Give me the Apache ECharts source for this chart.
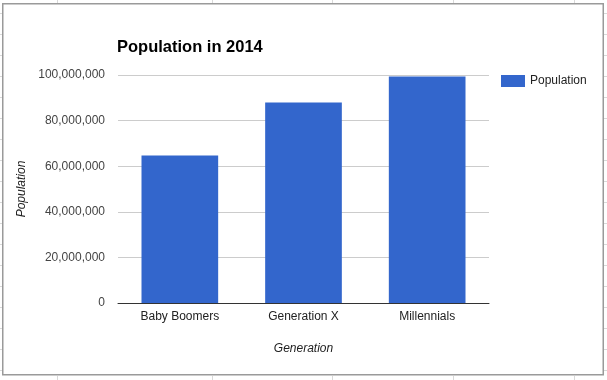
<!DOCTYPE html>
<html><head><meta charset="utf-8">
<script src="https://cdn.jsdelivr.net/npm/echarts@6/dist/echarts.min.js"></script>
<style>html,body{margin:0;padding:0;background:#fff;}#c{width:607px;height:380px;}</style>
</head><body><div id="c"></div>
<script>
const categories = ['Baby Boomers', 'Generation X', 'Millennials'];
const population = [64700000, 87900000, 99300000];
const yTicks = { min: 0, max: 100000000, interval: 20000000 };
const seriesName = 'Population';
const titleText = 'Population in 2014';
const xTitle = 'Generation';
const yTitle = 'Population';

const sheetCols = [57, 212, 332, 453, 574];
const sheetRows = [13, 34, 55, 76, 97, 118, 139, 160, 181, 202, 223, 244, 265, 286, 307, 328, 349, 370];
const FONT = 'Liberation Sans, Arial, Helvetica, sans-serif';

const graphics = [];
sheetCols.forEach(x => {
  graphics.push({type:'line', shape:{x1:x+0.5,y1:0,x2:x+0.5,y2:3}, style:{stroke:'#d9d9d9',lineWidth:1}, silent:true});
  graphics.push({type:'line', shape:{x1:x+0.5,y1:376,x2:x+0.5,y2:380}, style:{stroke:'#d9d9d9',lineWidth:1}, silent:true});
});
sheetRows.forEach(y => {
  graphics.push({type:'line', shape:{x1:0,y1:y+0.5,x2:2,y2:y+0.5}, style:{stroke:'#d9d9d9',lineWidth:1}, silent:true});
  graphics.push({type:'line', shape:{x1:604,y1:y+0.5,x2:607,y2:y+0.5}, style:{stroke:'#d9d9d9',lineWidth:1}, silent:true});
});
graphics.push({type:'rect', shape:{x:2.75,y:3.75,width:600.5,height:371}, style:{fill:null,stroke:'#9a9a9a',lineWidth:1.5}, silent:true, z:10});

const chart = echarts.init(document.getElementById('c'), null, {renderer:'canvas'});
chart.setOption({
  animation: false,
  backgroundColor: '#fff',
  textStyle: { fontFamily: FONT },
  title: {
    text: titleText, left: 117, top: 39, padding: 0,
    textStyle: { fontFamily: FONT, fontSize: 16.5, fontWeight: 'bold', color: '#000' }
  },
  legend: {
    data: [seriesName], left: 501, top: 75, padding: 0,
    icon: 'rect', itemWidth: 24, itemHeight: 12, itemGap: 5,
    textStyle: { fontFamily: FONT, fontSize: 12, color: '#222', padding: [0,0,0,0] }
  },
  grid: { left: 118, right: 118, top: 75, height: 228, containLabel: false },
  xAxis: {
    type: 'category', data: categories,
    name: xTitle, nameLocation: 'middle', nameGap: 40,
    nameTextStyle: { fontFamily: FONT, fontSize: 12, fontStyle: 'italic', color: '#222' },
    axisLine: { lineStyle: { color: '#333', width: 1 } },
    axisTick: { show: false },
    axisLabel: { fontFamily: FONT, fontSize: 12, color: '#222', margin: 8 },
    splitLine: { show: false }
  },
  yAxis: {
    type: 'value', min: yTicks.min, max: yTicks.max, interval: yTicks.interval,
    name: yTitle, nameLocation: 'middle', nameGap: 84,
    nameTextStyle: { fontFamily: FONT, fontSize: 12, fontStyle: 'italic', color: '#222' },
    axisLine: { show: false }, axisTick: { show: false },
    axisLabel: { fontFamily: FONT, fontSize: 12, color: '#444', margin: 13,
      formatter: v => v.toLocaleString('en-US') },
    splitLine: { lineStyle: { color: '#cccccc', width: 1 } }
  },
  series: [{
    name: seriesName, type: 'bar', data: population,
    barCategoryGap: '38%',
    itemStyle: { color: '#3366cc' }
  }],
  graphic: graphics
});
</script></body></html>
